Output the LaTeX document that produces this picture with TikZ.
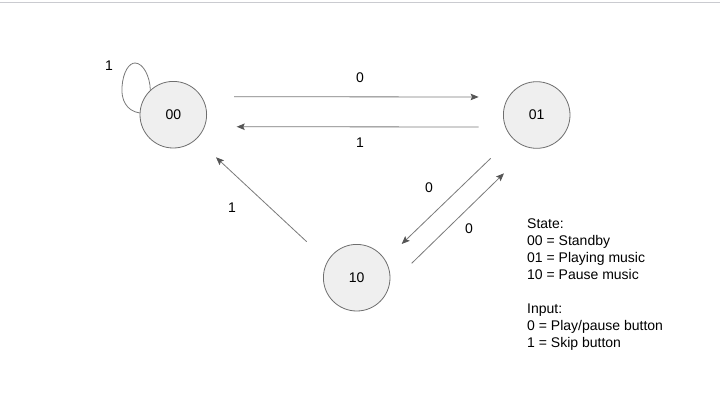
\documentclass[tikz,border=0pt]{standalone}
\usepackage{fontspec}
\setmainfont{Liberation Sans}
\usetikzlibrary{arrows.meta,calc}
\definecolor{statefill}{HTML}{EFEFEF}
\definecolor{stateline}{HTML}{6E6E6E}
\definecolor{edgeline}{HTML}{7A7A7A}
\definecolor{headcol}{HTML}{555555}
\definecolor{topline}{HTML}{CACBD0}
\tikzset{
  statenode/.style={circle,draw=stateline,fill=statefill,line width=0.8pt,minimum size=66.6pt,inner sep=0pt,font=\fontsize{14}{17}\selectfont},
  edge/.style={draw=edgeline,line width=0.8pt,-{Stealth[length=8pt,width=6.5pt,inset=1.5pt,color=headcol]}},
  lbl/.style={inner sep=0pt,font=\fontsize{14}{17}\selectfont},
  legend/.style={anchor=base west,inner sep=0pt,font=\fontsize{14}{17}\selectfont}
}
\begin{document}
\begin{tikzpicture}[x=1pt,y=-1pt]
\useasboundingbox (0,0) rectangle (720,408);
\fill[white] (0,0) rectangle (720,408);
\draw[topline,line width=1.2pt] (0,2.5) -- (720,2.5);

\node[statenode] (s00) at (173.3,114.7) {00};
\node[statenode] (s01) at (536.7,115) {01};
\node[statenode] (s10) at (356.7,277.7) {10};

% self loop on 00
\draw[draw=edgeline,line width=0.8pt] (s00.177) .. controls (126,111) and (121,99) .. (122,87)
   .. controls (123,72) and (129,63) .. (135,63)
   .. controls (143,63) and (150,76) .. (s00.133);
\node[lbl] (l1loop) at (109,66) {1};

% 00 -> 01
\draw[edge,shorten <=27pt,shorten >=24.4pt] ([yshift=18pt]s00.east) -- ([yshift=18pt]s01.west);
\node[lbl] (l0top) at (360,78) {0};
% 01 -> 00
\draw[edge,shorten <=24.4pt,shorten >=29.7pt] ([yshift=-12pt]s01.west) -- ([yshift=-12pt]s00.east);
\node[lbl] (l1mid) at (360,143) {1};

% 10 -> 00
\draw[edge] ($(s10.center)+(-50,-36)$) -- ($(s00.center)+(42.7,42.6)$);
\node[lbl] (l1diag) at (232,208) {1};

% 01 -> 10
\draw[edge] ($(s01.center)+(-46,43.3)$) -- ($(s10.center)+(45,-33.7)$);
\node[lbl] (l0a) at (429,188) {0};
% 10 -> 01
\draw[edge] ($(s10.center)+(55,-14.4)$) -- ($(s01.center)+(-32.7,58.3)$);
\node[lbl] (l0b) at (469,229) {0};

% legend
\node[legend] (g1) at (527,228) {State:};
\node[legend] (g2) at (527,245) {00 = Standby};
\node[legend] (g3) at (527,262) {01 = Playing music};
\node[legend] (g4) at (527,279) {10 = Pause music};
\node[legend] (g5) at (527,313) {Input:};
\node[legend] (g6) at (527,330) {0 = Play/pause button};
\node[legend] (g7) at (527,347) {1 = Skip button};
\end{tikzpicture}
\end{document}
